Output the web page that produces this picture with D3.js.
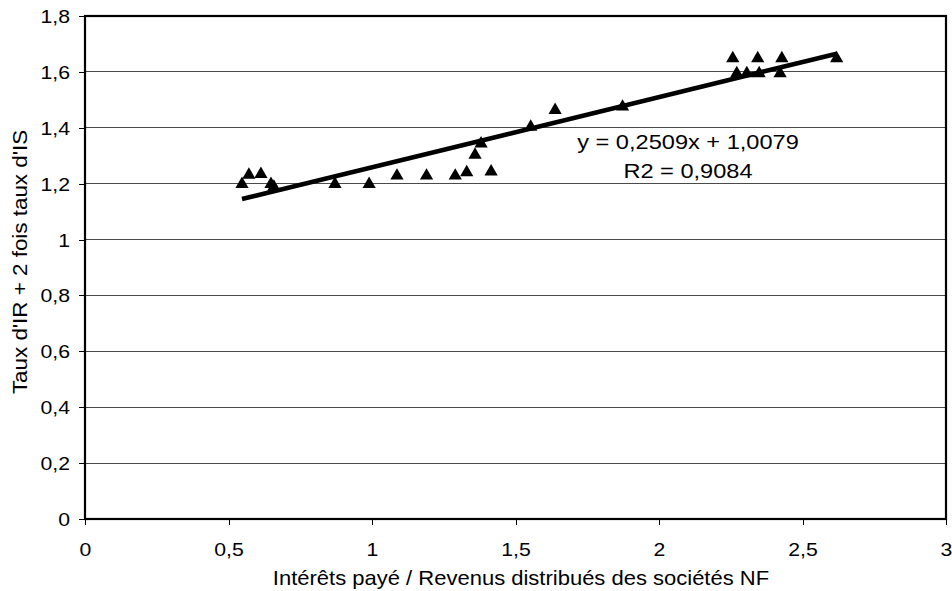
<!DOCTYPE html>
<html>
<head>
<meta charset="utf-8">
<script src="https://cdn.jsdelivr.net/npm/d3@7"></script>
<style>
  html, body { margin: 0; padding: 0; background: #fff; }
  text { font-family: "Liberation Sans", Arial, sans-serif; fill: #000; }
</style>
</head>
<body>
<svg id="chart" width="952" height="591"></svg>
<script>
// Observations: ratio of interest paid to distributed income (x) vs. combined tax rate (y)
const ratioInterets = [0.547, 0.571, 0.613, 0.648, 0.658, 0.871, 0.99, 1.087, 1.19, 1.29,
                       1.33, 1.359, 1.38, 1.415, 1.553, 1.638, 1.873,
                       2.257, 2.271, 2.306, 2.344, 2.349, 2.422, 2.428, 2.619];
const tauxCombine  = [1.205, 1.238, 1.241, 1.205, 1.195, 1.205, 1.205, 1.235, 1.235, 1.235,
                      1.247, 1.31, 1.35, 1.25, 1.41, 1.47, 1.482,
                      1.655, 1.601, 1.601, 1.655, 1.601, 1.601, 1.655, 1.655];

// Linear trend reported on the chart
const pente = 0.2509;
const ordonnee = 1.0079;
const r2 = 0.9084;

const xTicks = [0, 0.5, 1, 1.5, 2, 2.5, 3];
const yTicks = [0, 0.2, 0.4, 0.6, 0.8, 1, 1.2, 1.4, 1.6, 1.8];

const xTitle = "Intérêts payé / Revenus distribués des sociétés NF";
const yTitle = "Taux d'IR + 2 fois taux d'IS";

const frLocale = d3.formatLocale({ decimal: ",", thousands: " ", grouping: [3], currency: ["", " €"] });
const fmtTick = frLocale.format("~g");
const fmt4 = frLocale.format(".4f");

const svg = d3.select("#chart");
const plotL = 85, plotR = 946, plotT = 16, plotB = 519;
const stretch = 1.18; // glyphs are set slightly wide

const x = d3.scaleLinear().domain([0, 3]).range([plotL, plotR]);
const y = d3.scaleLinear().domain([0, 1.8]).range([plotB, plotT]);

// horizontal gridlines
svg.append("g")
  .selectAll("line")
  .data(yTicks.filter(d => d > 0 && d < 1.8))
  .join("line")
  .attr("x1", plotL).attr("x2", plotR)
  .attr("y1", d => y(d)).attr("y2", d => y(d))
  .attr("stroke", "#4a4a4a").attr("stroke-width", 1)
  .attr("shape-rendering", "crispEdges");

// axes
const yAxis = svg.append("g")
  .attr("transform", `translate(${plotL},0)`)
  .call(d3.axisLeft(y).tickValues(yTicks).tickSize(6).tickPadding(0).tickFormat(fmtTick));
const xAxis = svg.append("g")
  .attr("transform", `translate(0,${plotB})`)
  .call(d3.axisBottom(x).tickValues(xTicks).tickSize(6).tickPadding(0).tickFormat(fmtTick));

[yAxis, xAxis].forEach(g => {
  g.select(".domain").remove();
  g.selectAll(".tick line").attr("stroke", "#000").attr("stroke-width", 1).attr("shape-rendering", "crispEdges");
  g.selectAll(".tick text").style("font-size", "18px").attr("font-family", null);
});
yAxis.selectAll(".tick text")
  .attr("x", 0).attr("dy", "0.36em")
  .attr("transform", `translate(-15,0) scale(${stretch},1)`);
xAxis.selectAll(".tick text")
  .attr("y", 0).attr("dy", null)
  .attr("transform", `translate(0,37) scale(${stretch},1)`);

// plot frame
svg.append("rect")
  .attr("x", plotL).attr("y", plotT)
  .attr("width", plotR - plotL).attr("height", plotB - plotT)
  .attr("fill", "none").attr("stroke", "#000").attr("stroke-width", 2.2);

// trend line over the observed range
const [xmin, xmax] = d3.extent(ratioInterets);
svg.append("line")
  .attr("x1", x(xmin)).attr("y1", y(pente * xmin + ordonnee))
  .attr("x2", x(xmax)).attr("y2", y(pente * xmax + ordonnee))
  .attr("stroke", "#000").attr("stroke-width", 4.6);

// triangle marker centred on its bounding box
const boxTriangle = {
  draw(context, size) {
    const s = Math.sqrt(size * 4 / Math.sqrt(3));
    const h = s * Math.sqrt(3) / 2;
    context.moveTo(0, -h / 2);
    context.lineTo(s / 2, h / 2);
    context.lineTo(-s / 2, h / 2);
    context.closePath();
  }
};

// observations
const tri = d3.symbol().type(boxTriangle).size(76);
svg.append("g")
  .selectAll("path")
  .data(ratioInterets.map((v, i) => [v, tauxCombine[i]]))
  .join("path")
  .attr("d", tri)
  .attr("transform", d => `translate(${x(d[0])},${y(d[1])})`)
  .attr("fill", "#000");

// regression label
const eq = svg.append("g").attr("transform", `translate(688,0)`);
eq.append("text")
  .attr("text-anchor", "middle")
  .attr("transform", `translate(0,149) scale(${stretch},1)`)
  .style("font-size", "20px")
  .text(`y = ${fmt4(pente)}x + ${fmt4(ordonnee)}`);
eq.append("text")
  .attr("text-anchor", "middle")
  .attr("transform", `translate(0,178) scale(${stretch},1)`)
  .style("font-size", "20px")
  .text(`R2 = ${fmt4(r2)}`);

// axis titles
svg.append("text")
  .attr("text-anchor", "middle")
  .attr("transform", `translate(521,585) scale(1.1,1)`)
  .style("font-size", "20px")
  .text(xTitle);
svg.append("text")
  .attr("text-anchor", "middle")
  .attr("transform", `translate(27,262) rotate(-90) scale(1.12,1)`)
  .style("font-size", "20px")
  .text(yTitle);
</script>
</body>
</html>
